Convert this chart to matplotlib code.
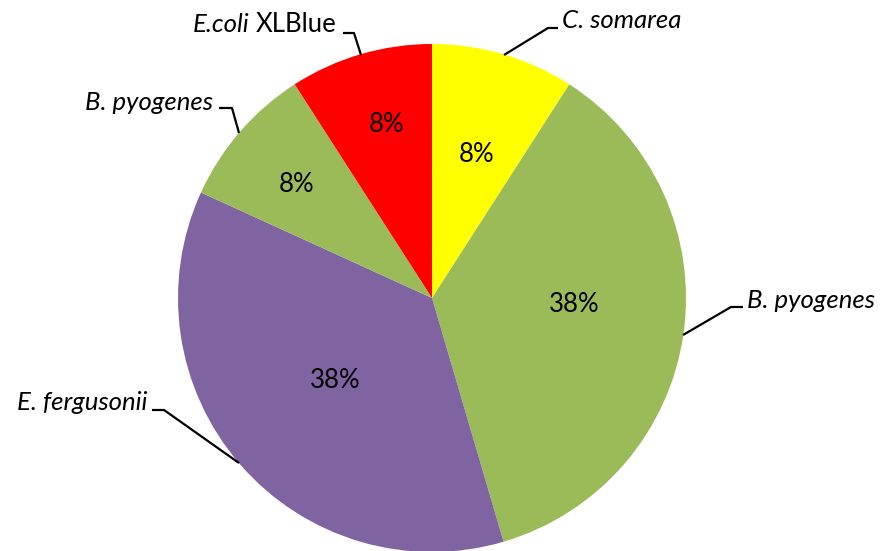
import matplotlib
matplotlib.use("Agg")
import matplotlib.pyplot as plt

# slice sizes, printed labels as shown
sizes = [1, 4, 4, 1, 1]
pct_labels = ["8%", "38%", "38%", "8%", "8%"]
names = ["C. somarea", "B. pyogenes", "E. fergusonii", "B. pyogenes", "E.coli XLBlue"]
colors = ["#FFFF00", "#9BBB59", "#8064A2", "#9BBB59", "#FF0000"]

W, H = 882, 551
FONT = "Lato"

fig = plt.figure(figsize=(W / 100, H / 100), dpi=100)
ax = fig.add_axes([0, 0, 1, 1])

cx, cy, r = 432, H - 298, 254
wedges, _ = ax.pie(sizes, colors=colors, startangle=90, counterclock=False,
                   radius=r, center=(cx, cy), frame=True,
                   wedgeprops=dict(linewidth=0))
ax.set_xlim(0, W)
ax.set_ylim(0, H)
ax.set_aspect("equal")
ax.axis("off")

# percentage labels (pixel positions from top-left)
pct_pos = [(477, 155), (574, 304), (335, 380), (297, 185), (387, 125)]
for (px, py), txt in zip(pct_pos, pct_labels):
    ax.text(px, H - py, txt, ha="center", va="center", fontsize=18.5,
            family=FONT, color="black")

# leader lines: edge point -> elbow -> end, in pixel coords from top-left
leaders = [
    [(504, 55), (548, 28), (558, 28)],
    [(683, 335), (731, 307), (743, 307)],
    [(239, 463), (164, 410), (152, 410)],
    [(239, 133), (232, 108), (219, 108)],
    [(361, 55), (354, 33), (343, 33)],
]
for pts in leaders:
    ax.plot([p[0] for p in pts], [H - p[1] for p in pts], color="black", lw=1.6,
            solid_capstyle="butt")

lab_fs = 18.5
ax.text(562, H - 20, names[0], ha="left", va="center", fontsize=lab_fs,
        family=FONT, style="italic")
ax.text(747, H - 300, names[1], ha="left", va="center", fontsize=lab_fs,
        family=FONT, style="italic")
ax.text(147, H - 403, names[2], ha="right", va="center", fontsize=lab_fs,
        family=FONT, style="italic")
ax.text(213, H - 103, names[3], ha="right", va="center", fontsize=lab_fs,
        family=FONT, style="italic")

# mixed style label: italic species + upright strain
species, strain = names[4].split(" ", 1)
t2 = ax.text(336, H - 24, strain, ha="right", va="center", fontsize=lab_fs,
             family=FONT)
fig.canvas.draw()
bb = t2.get_window_extent()
x_left = ax.transData.inverted().transform((bb.x0, bb.y0))[0]
ax.text(x_left - 6, H - 24, species, ha="right", va="center", fontsize=lab_fs,
        family=FONT, style="italic")

fig.savefig("out.png", dpi=100)
